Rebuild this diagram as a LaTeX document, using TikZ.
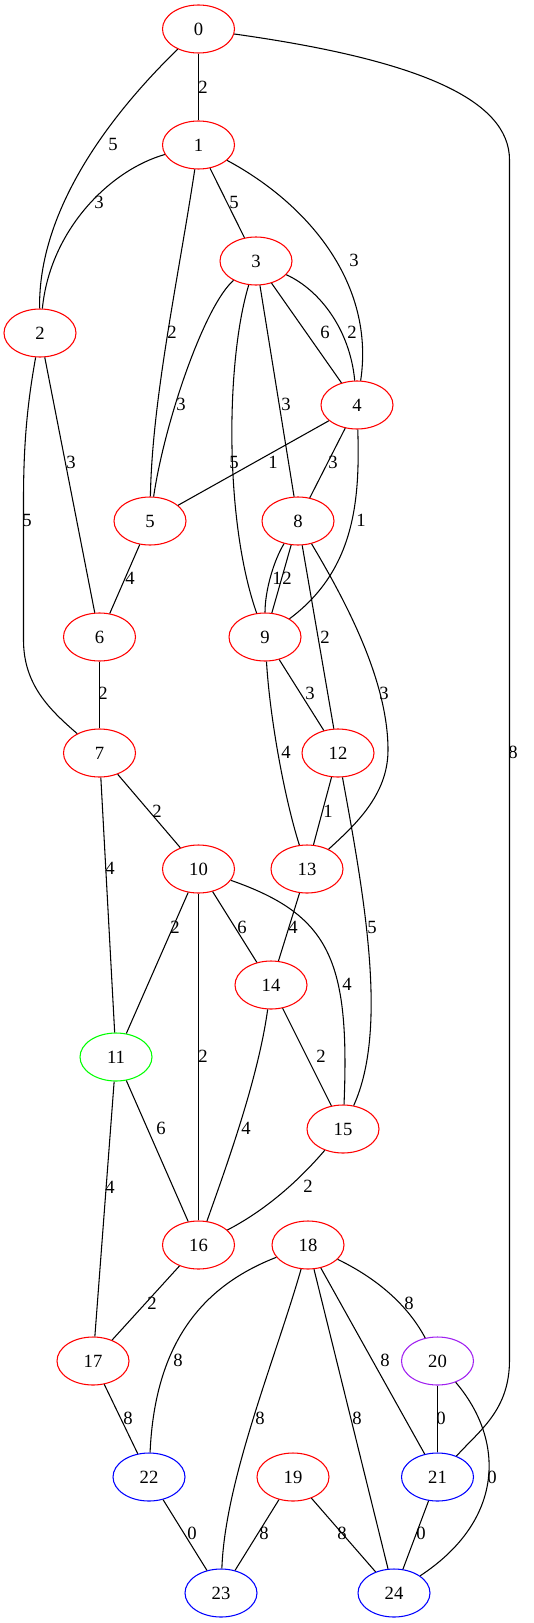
\documentclass[tikz,border=0pt]{standalone}
\usepackage{fontspec}
\setmainfont{Liberation Serif}
\usetikzlibrary{shapes.geometric}
\definecolor{gvpurple}{HTML}{A020F0}

\begin{document}
\begin{tikzpicture}[
		x=0.75pt, y=-0.75pt,
		vertex/.style={draw=red, ellipse, line width=0.8pt, minimum width=54pt, minimum height=36pt, inner sep=0pt, font=\fontsize{14pt}{16pt}\selectfont},
		weight/.style={inner sep=0pt, font=\fontsize{14pt}{16pt}\selectfont},
		link/.style={line width=0.8pt},
	]
		\useasboundingbox (0,0) rectangle (533,1623);

		\node [vertex] (v0) at (198.5,29) {0};
		\node [vertex] (v1) at (198.5,145) {1};
		\node [vertex] (v2) at (40,333) {2};
		\node [vertex] (v3) at (256,261) {3};
		\node [vertex] (v4) at (357,405) {4};
		\node [vertex] (v5) at (150,521) {5};
		\node [vertex] (v6) at (99.5,637) {6};
		\node [vertex] (v7) at (99.5,753) {7};
		\node [vertex] (v8) at (298,521) {8};
		\node [vertex] (v9) at (265,637) {9};
		\node [vertex] (v10) at (198.5,869) {10};
		\node [vertex, draw=green] (v11) at (116,1057) {11};
		\node [vertex] (v12) at (338,753) {12};
		\node [vertex] (v13) at (307,869) {13};
		\node [vertex] (v14) at (271,985) {14};
		\node [vertex] (v15) at (343,1129) {15};
		\node [vertex] (v16) at (198.5,1245) {16};
		\node [vertex] (v17) at (93,1361) {17};
		\node [vertex] (v18) at (308,1245) {18};
		\node [vertex] (v19) at (293,1477) {19};
		\node [vertex, draw=gvpurple] (v20) at (437.5,1361) {20};
		\node [vertex, draw=blue] (v21) at (437.5,1477) {21};
		\node [vertex, draw=blue] (v22) at (149,1477) {22};
		\node [vertex, draw=blue] (v23) at (221,1593) {23};
		\node [vertex, draw=blue] (v24) at (394,1593) {24};

		\draw [link] (v0) -- (v1) node [weight] at (203,87) {2};
		\draw [link] (v0) .. controls (110,115) and (38,210) .. (v2) node [weight] at (113,144) {5};
		\draw [link] (v0) .. controls (420,60) and (509.5,100) .. (509.5,160) -- (509.5,1360) .. controls (509.5,1410) and (480,1430) .. (v21) node [weight] at (513,752) {8};
		\draw [link] (v1) .. controls (110,170) and (50,230) .. (v2) node [weight] at (99,202) {3};
		\draw [link] (v1) -- (v3) node [weight] at (234,202) {5};
		\draw [link] (v1) .. controls (310,205) and (375,285) .. (v4) node [weight] at (354,260) {3};
		\draw [link] (v1) .. controls (178,280) and (152,400) .. (v5) node [weight] at (172,332) {2};
		\draw [link] (v3) .. controls (205,305) and (165,420) .. (v5) node [weight] at (181,404) {3};
		\draw [link] (v3) -- (v4) node [weight] at (325,332) {6};
		\draw [link] (v3) .. controls (320,290) and (350,330) .. (v4) node [weight] at (352,332) {2};
		\draw [link] (v3) -- (v8) node [weight] at (286,404) {3};
		\draw [link] (v3) .. controls (226,360) and (224,520) .. (v9) node [weight] at (234,462) {5};
		\draw [link] (v2) -- (v6) node [weight] at (71,462) {3};
		\draw [link] (v2) .. controls (28,400) and (23.5,440) .. (23.5,500) -- (23.5,640) .. controls (23.5,685) and (50,710) .. (v7) node [weight] at (27,520) {5};
		\draw [link] (v4) -- (v5) node [weight] at (273,462) {1};
		\draw [link] (v4) -- (v8) node [weight] at (333,462) {3};
		\draw [link] (v4) .. controls (360,500) and (355,570) .. (v9) node [weight] at (361,520) {1};
		\draw [link] (v5) -- (v6) node [weight] at (130,578) {4};
		\draw [link] (v8) .. controls (274,560) and (265,590) .. (v9) node [weight] at (277,578) {1};
		\draw [link] (v8) -- (v9) node [weight] at (287,578) {2};
		\draw [link] (v8) -- (v12) node [weight] at (325,637) {2};
		\draw [link] (v8) .. controls (345,600) and (388,680) .. (388,750) .. controls (388,795) and (355,825) .. (v13) node [weight] at (384,693) {3};
		\draw [link] (v9) -- (v12) node [weight] at (310,693) {3};
		\draw [link] (v9) .. controls (270,720) and (285,800) .. (v13) node [weight] at (286,752) {4};
		\draw [link] (v6) -- (v7) node [weight] at (103,693) {2};
		\draw [link] (v7) -- (v10) node [weight] at (157,811) {2};
		\draw [link] (v7) -- (v11) node [weight] at (110,868) {4};
		\draw [link] (v12) -- (v13) node [weight] at (328,811) {1};
		\draw [link] (v12) .. controls (365,900) and (388,1030) .. (v15) node [weight] at (372,927) {5};
		\draw [link] (v10) -- (v11) node [weight] at (175,927) {2};
		\draw [link] (v10) -- (v14) node [weight] at (242,927) {6};
		\draw [link] (v10) -- (v16) node [weight] at (203,1056) {2};
		\draw [link] (v10) .. controls (330,915) and (350,960) .. (v15) node [weight] at (347,984) {4};
		\draw [link] (v13) -- (v14) node [weight] at (293,927) {4};
		\draw [link] (v14) -- (v15) node [weight] at (321,1056) {2};
		\draw [link] (v14) .. controls (258,1080) and (225,1170) .. (v16) node [weight] at (246,1128) {4};
		\draw [link] (v11) -- (v16) node [weight] at (161,1128) {6};
		\draw [link] (v11) -- (v17) node [weight] at (110,1187) {4};
		\draw [link] (v15) .. controls (295,1185) and (262,1212) .. (v16) node [weight] at (308,1186) {2};
		\draw [link] (v16) -- (v17) node [weight] at (152,1303) {2};
		\draw [link] (v17) -- (v22) node [weight] at (128,1418) {8};
		\draw [link] (v18) .. controls (205,1285) and (155,1340) .. (v22) node [weight] at (178,1360) {8};
		\draw [link] (v18) .. controls (275,1360) and (225,1480) .. (v23) node [weight] at (260,1418) {8};
		\draw [link] (v18) -- (v24) node [weight] at (357,1418) {8};
		\draw [link] (v18) -- (v21) node [weight] at (385,1360) {8};
		\draw [link] (v18) .. controls (370,1275) and (405,1300) .. (v20) node [weight] at (409,1303) {8};
		\draw [link] (v20) -- (v21) node [weight] at (441,1418) {0};
		\draw [link] (v20) .. controls (505,1440) and (505,1520) .. (v24) node [weight] at (492,1477) {0};
		\draw [link] (v21) -- (v24) node [weight] at (421,1533) {0};
		\draw [link] (v22) -- (v23) node [weight] at (192,1533) {0};
		\draw [link] (v19) -- (v23) node [weight] at (264,1533) {8};
		\draw [link] (v19) -- (v24) node [weight] at (342,1533) {8};
	\end{tikzpicture}
\end{document}
